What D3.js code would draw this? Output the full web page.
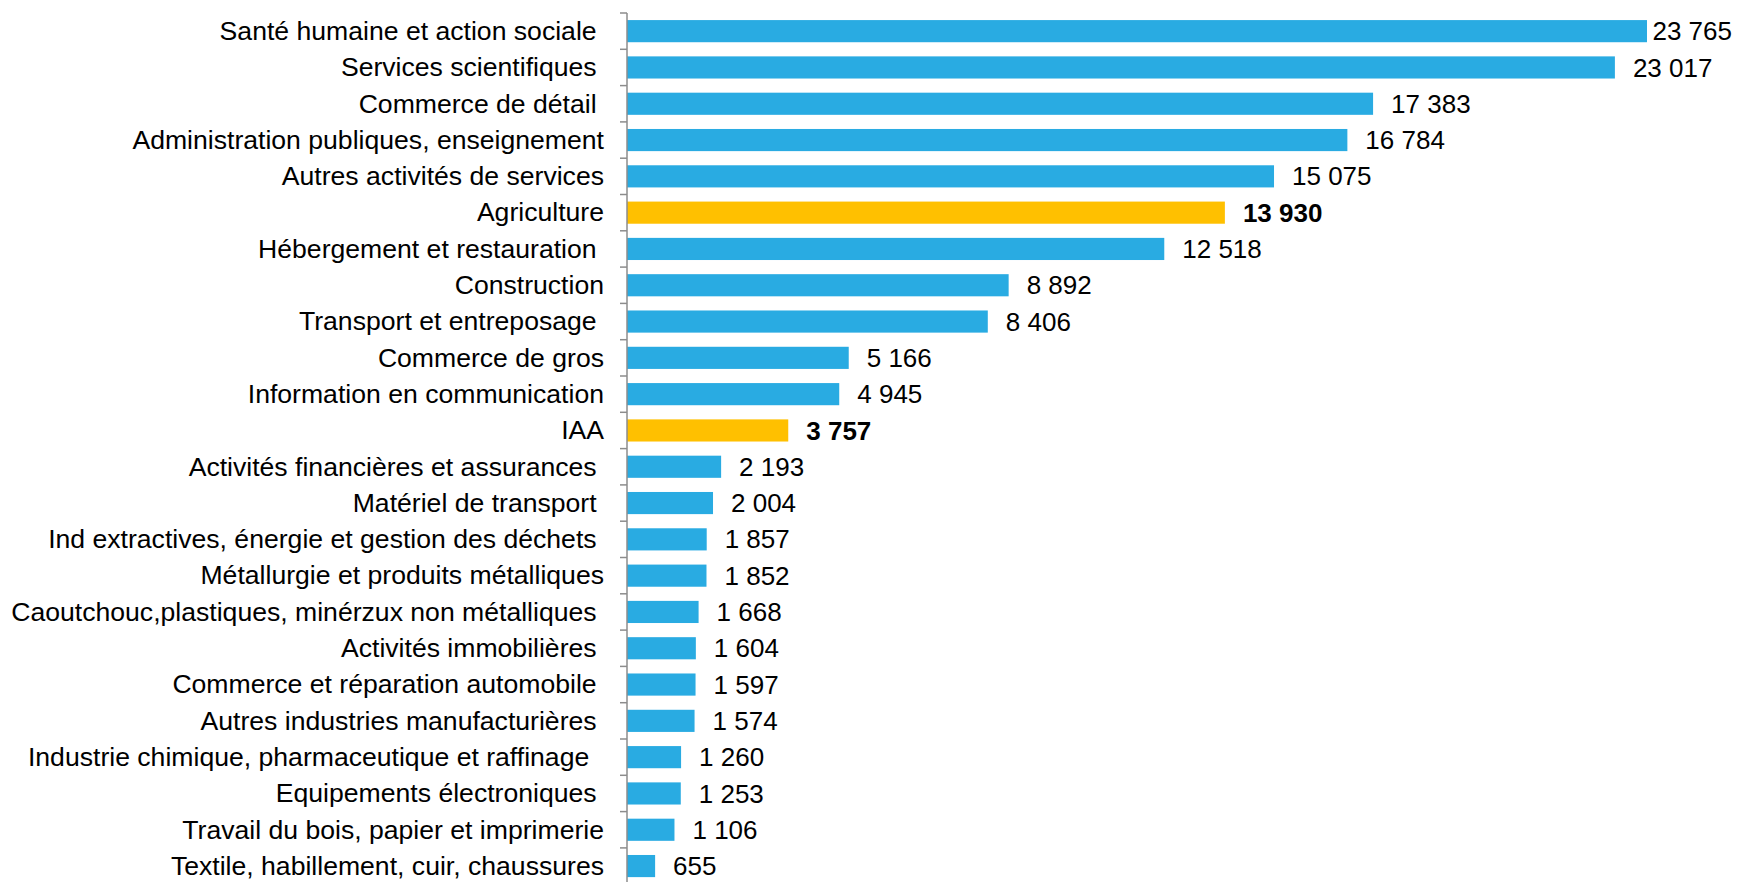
<!DOCTYPE html>
<html>
<head>
<meta charset="utf-8">
<script src="https://cdn.jsdelivr.net/npm/d3@7"></script>
<style>
  body { margin: 0; background: #fff; }
  svg { display: block; font-family: 'Liberation Sans', Arial, sans-serif; }
</style>
</head>
<body>
<div id="chart"></div>
<script>
// Data
const categories = [
  'Santé humaine et action sociale ',
  'Services scientifiques ',
  'Commerce de détail ',
  'Administration publiques, enseignement',
  'Autres activités de services',
  'Agriculture',
  'Hébergement et restauration ',
  'Construction',
  'Transport et entreposage ',
  'Commerce de gros',
  'Information en communication',
  'IAA',
  'Activités financières et assurances ',
  'Matériel de transport ',
  'Ind extractives, énergie et gestion des déchets ',
  'Métallurgie et produits métalliques',
  'Caoutchouc,plastiques, minérzux non métalliques ',
  'Activités immobilières ',
  'Commerce et réparation automobile ',
  'Autres industries manufacturières ',
  'Industrie chimique, pharmaceutique et raffinage  ',
  'Equipements électroniques ',
  'Travail du bois, papier et imprimerie',
  'Textile, habillement, cuir, chaussures',
];
const values = [
  23765, 23017, 17383, 16784, 15075, 13930, 12518, 8892, 8406, 5166, 4945, 3757,
  2193, 2004, 1857, 1852, 1668, 1604, 1597, 1574, 1260, 1253, 1106, 655,
];
const highlighted = ['Agriculture', 'IAA'];

const W = 1737;
const H = 882;
const axisX = 627;
const topY = 13;
const step = 36.3;

const data = categories.map((c, i) => ({ name: c, value: values[i] }));

const svg = d3.select('#chart').append('svg').attr('width', W).attr('height', H);

const y = d3
  .scaleBand()
  .domain(categories)
  .range([topY, topY + step * categories.length])
  .paddingInner(0.39)
  .paddingOuter(0.195);

const x = d3.scaleLinear().domain([0, 25000]).range([axisX, axisX + 1073]);

const isHi = (d) => highlighted.includes(d.name.trim());
const fmt = (v) => d3.format(',')(v).replace(/,/g, ' ');

// bars
svg
  .append('g')
  .selectAll('rect')
  .data(data)
  .join('rect')
  .attr('x', x(0))
  .attr('y', (d) => y(d.name))
  .attr('width', (d) => x(d.value) - x(0))
  .attr('height', y.bandwidth())
  .attr('fill', (d) => (isHi(d) ? '#FFC000' : '#29ABE2'));

// axis (ticks at band boundaries)
const axis = svg.append('g').attr('stroke', '#8c8c8c').attr('stroke-width', 1.5);
axis
  .append('line')
  .attr('x1', axisX)
  .attr('x2', axisX)
  .attr('y1', topY)
  .attr('y2', topY + step * categories.length);
axis
  .selectAll('.tick')
  .data(d3.range(categories.length + 1))
  .join('line')
  .attr('class', 'tick')
  .attr('x1', axisX - 7)
  .attr('x2', axisX)
  .attr('y1', (i) => topY + i * step)
  .attr('y2', (i) => topY + i * step);

// category labels
svg
  .append('g')
  .selectAll('text')
  .data(data)
  .join('text')
  .attr('x', 604)
  .attr('y', (d) => y(d.name) + y.bandwidth() / 2)
  .attr('dy', '0.33em')
  .attr('text-anchor', 'end')
  .style('white-space', 'pre')
  .style('font-size', '26.6px')
  .attr('fill', '#000')
  .text((d) => d.name);

// value labels
svg
  .append('g')
  .selectAll('text')
  .data(data)
  .join('text')
  .attr('y', (d) => y(d.name) + y.bandwidth() / 2)
  .attr('dy', '0.35em')
  .style('font-size', '26px')
  .style('font-weight', (d) => (isHi(d) ? 'bold' : 'normal'))
  .attr('fill', '#000')
  .text((d) => fmt(d.value))
  .attr('x', function (d) {
    const w = this.getComputedTextLength();
    return Math.min(x(d.value) + 18, W - 5 - w);
  });
</script>
</body>
</html>
